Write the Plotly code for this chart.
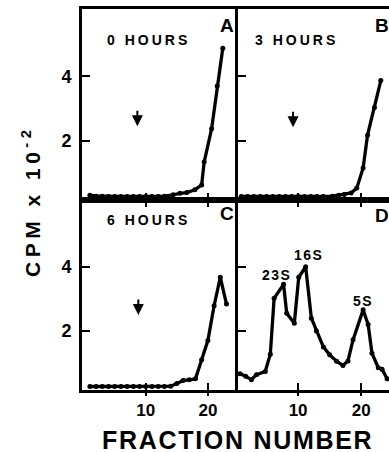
import plotly.graph_objects as go

# ---------------- data ----------------
a_x = [1, 2, 3, 4, 5, 6, 7, 8, 9, 10, 11, 12, 13, 14.4, 15.5, 16.6, 17.9, 19.0, 19.4, 20.6, 21.5, 22.4]
a_y = [0.30, 0.27, 0.27, 0.26, 0.26, 0.26, 0.26, 0.26, 0.26, 0.26, 0.26, 0.26, 0.27, 0.31, 0.36, 0.38, 0.47, 0.62, 1.33, 2.37, 3.70, 4.88]

b_x = [1, 2, 3, 4, 5, 6, 7, 8, 9, 10, 11, 12, 13, 14, 15.4, 16.4, 17.3, 18.4, 19.3, 20.3, 21.0, 22.1, 23.1]
b_y = [0.26, 0.26, 0.26, 0.26, 0.26, 0.26, 0.26, 0.26, 0.26, 0.26, 0.26, 0.26, 0.26, 0.26, 0.27, 0.30, 0.32, 0.37, 0.52, 1.15, 2.17, 3.03, 3.87]

c_x = [1, 2, 3, 4, 5, 6, 7, 8, 9, 10, 11, 12, 13, 14, 15, 16, 17, 18, 19, 20, 21, 22, 23]
c_y = [0.26, 0.26, 0.26, 0.26, 0.26, 0.26, 0.26, 0.26, 0.26, 0.26, 0.26, 0.26, 0.26, 0.27, 0.35, 0.45, 0.47, 0.50, 1.10, 1.70, 2.79, 3.68, 2.84]

d_x = [0.8, 1.7, 2.6, 3.4, 4.8, 5.6, 6.2, 7.7, 8.2, 9.4, 10.1, 11.2, 12.1, 12.9, 14.0, 15.0, 16.1, 17.1, 17.9, 18.7, 20.3, 21.1, 21.7, 22.7, 23.3, 24.1]
d_y = [0.66, 0.58, 0.47, 0.63, 0.73, 1.27, 3.02, 3.46, 2.55, 2.24, 3.68, 4.01, 2.40, 2.00, 1.50, 1.25, 1.05, 0.92, 1.06, 1.72, 2.66, 2.20, 1.30, 0.85, 0.80, 0.50]

panel_letters = ["A", "B", "C", "D"]
hour_labels = ["0 HOURS", "3 HOURS", "6 HOURS"]
arrow_x = [8.65, 9.2, 8.8]          # fraction marked by arrow in A, B, C
peak_labels = ["23S", "16S", "5S"]
peak_x = [6.6, 11.7, 20.3]
peak_y = [3.75, 4.38, 2.94]
y_ticks = [2, 4]
x_ticks = [10, 20]
x_ticklabels = ["10", "20"]

# ---------------- layout geometry ----------------
W, H = 389, 452
def px(x):
    return x / W
def py(y):
    return (H - y) / H

XL = [px(82), px(238)]
XR = [px(238), 1.0]
YT = [py(200), py(9)]
YB = [py(390), py(200)]
RANGE_L = [-0.27, 24.85]
RANGE_R = [0.48, 24.4]
YR = [0.15, 6.1]

FONT = "Liberation Sans"
LW = 2.6

def sp(text, s):
    return f'<span style="letter-spacing:{s}px">{text}</span>'

fig = go.Figure()
series = [(a_x, a_y, "x", "y"), (b_x, b_y, "x2", "y2"), (c_x, c_y, "x3", "y3"), (d_x, d_y, "x4", "y4")]
for xs, ys, xa, ya in series:
    fig.add_trace(go.Scatter(x=xs, y=ys, xaxis=xa, yaxis=ya, mode="lines+markers",
                             line=dict(color="black", width=3.3),
                             marker=dict(color="black", size=5),
                             showlegend=False, hoverinfo="skip"))

common_x = dict(tickvals=x_ticks, ticks="inside", ticklen=7, tickwidth=2.2, tickcolor="black",
                showline=True, linewidth=LW, linecolor="black", showgrid=False, zeroline=False,
                showticklabels=False, fixedrange=True)
common_y = dict(range=YR, tickvals=y_ticks, ticks="inside", ticklen=8, tickwidth=2.2, tickcolor="black",
                showline=True, linewidth=LW, linecolor="black", showgrid=False, zeroline=False,
                fixedrange=True, mirror=False)

lab_font = dict(family=FONT, size=18, color="black", weight="bold")
xt_font = dict(family=FONT, size=17, color="black", weight="bold")

fig.update_layout(
    width=W, height=H, margin=dict(l=0, r=0, t=0, b=0),
    paper_bgcolor="white", plot_bgcolor="white",
    xaxis=dict(domain=XL, range=RANGE_L, anchor="y", mirror=True, **common_x),
    yaxis=dict(domain=YT, anchor="x", showticklabels=True, tickfont=lab_font,
               ticklabelstandoff=4, **common_y),
    xaxis2=dict(domain=XR, range=RANGE_R, anchor="y2", mirror=True, **common_x),
    yaxis2=dict(domain=YT, anchor="x2", showticklabels=False, **common_y),
    xaxis3=dict(domain=XL, range=RANGE_L, anchor="y3", mirror="ticks", **common_x),
    yaxis3=dict(domain=YB, anchor="x3", showticklabels=True, tickfont=lab_font,
                ticklabelstandoff=4, **common_y),
    xaxis4=dict(domain=XR, range=RANGE_R, anchor="y4", mirror="ticks", **common_x),
    yaxis4=dict(domain=YB, anchor="x4", showticklabels=False, **common_y),
    xaxis5=dict(domain=XL, range=RANGE_L, anchor="y3", overlaying="x3", tickvals=x_ticks,
                ticktext=x_ticklabels, ticks="outside", ticklen=5, tickwidth=2.2, tickcolor="black",
                showline=False, showgrid=False, zeroline=False, tickfont=xt_font, fixedrange=True),
    xaxis6=dict(domain=XR, range=RANGE_R, anchor="y4", overlaying="x4", tickvals=x_ticks,
                ticktext=x_ticklabels, ticks="outside", ticklen=5, tickwidth=2.2, tickcolor="black",
                showline=False, showgrid=False, zeroline=False, tickfont=xt_font, fixedrange=True),
)
# invisible traces so overlay axes render
fig.add_trace(go.Scatter(x=[None], y=[None], xaxis="x5", yaxis="y3", showlegend=False))
fig.add_trace(go.Scatter(x=[None], y=[None], xaxis="x6", yaxis="y4", showlegend=False))

C = dict(xanchor="center", yanchor="middle", showarrow=False)
ann = []
# axis titles
ann.append(dict(text=sp("FRACTION NUMBER", 1.7), x=px(237), y=py(440), xref="paper", yref="paper",
                font=dict(family=FONT, size=25, color="black", weight="bold"), **C))
ann.append(dict(text=sp("CPM x 10<sup>-2</sup>", 4.5), x=px(31), y=py(202), xref="paper", yref="paper",
                textangle=-90, font=dict(family=FONT, size=21, color="black", weight="bold"), **C))
# panel letters
for t, (x, y) in zip(panel_letters, [(227, 25), (382, 25), (227, 213), (382, 215)]):
    ann.append(dict(text=t, x=px(x), y=py(y), xref="paper", yref="paper",
                    font=dict(family=FONT, size=19, color="black", weight="bold"), **C))
# hour labels
for t, (x, y) in zip(hour_labels, [(148.5, 40), (296.5, 40), (148.5, 220)]):
    ann.append(dict(text=sp(t, 3), x=px(x), y=py(y), xref="paper", yref="paper",
                    font=dict(family=FONT, size=14, color="black", weight="bold"), **C))
# arrows
for xv, (xa, ya), yv in zip(arrow_x, [("x", "y"), ("x2", "y2"), ("x3", "y3")], [2.45, 2.42, 2.5]):
    ann.append(dict(text="", x=xv, y=yv, xref=xa, yref=ya, showarrow=True, ax=0, ay=-17,
                    arrowhead=2, arrowsize=1.1, arrowwidth=2, arrowcolor="black"))
# peak labels
for t, xv, yv in zip(peak_labels, peak_x, peak_y):
    ann.append(dict(text=sp(t, 1.5), x=xv, y=yv, xref="x4", yref="y4",
                    font=dict(family=FONT, size=14, color="black", weight="bold"), **C))
fig.update_layout(annotations=ann)

fig.write_html("out.html", config={"displayModeBar": False},
               post_script="document.body.style.margin='0px';")
